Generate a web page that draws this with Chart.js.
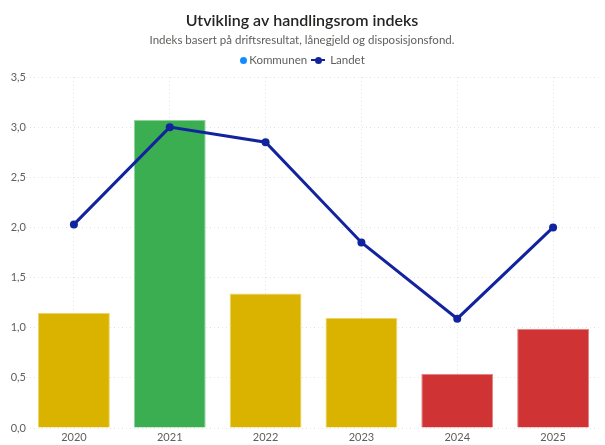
<!DOCTYPE html>
<html>
<head>
<meta charset="utf-8">
<script src="https://cdn.jsdelivr.net/npm/chart.js@4"></script>
<style>
  html, body { margin: 0; padding: 0; background: #fff; }
  #wrap { position: relative; width: 605px; height: 445px; }
  #legend {
    position: absolute; top: 52px; left: 0; width: 605px; height: 16px;
    display: flex; justify-content: center; align-items: center;
    font-family: Lato, sans-serif; font-size: 11.5px; color: #605E5C; line-height: 16px;
  }
  #legend .item { display: flex; align-items: center; margin: 0 2px; }
  #legend .dot { width: 7px; height: 7px; border-radius: 50%; background: #118DFF; margin-right: 2px; }
  #legend .ln { position: relative; width: 14px; height: 2px; background: #12239E; margin-right: 5px; }
  #legend .ln::after { content: ""; position: absolute; left: 3.5px; top: -2.5px; width: 7px; height: 7px; border-radius: 50%; background: #12239E; }
</style>
</head>
<body>
<div id="wrap">
  <canvas id="chartCanvas" width="605" height="445"></canvas>
  <div id="legend"></div>
</div>
<script>
const years = ["2020", "2021", "2022", "2023", "2024", "2025"];
const kommunen = [1.15, 3.07, 1.34, 1.10, 0.54, 0.99];
const landet = [2.03, 3.0, 2.85, 1.85, 1.09, 2.0];
const yTicks = [0, 0.5, 1, 1.5, 2, 2.5, 3, 3.5];

const fontFamily = "Lato, 'Noto Sans', sans-serif";

// farge etter indeksnivå
function barColor(v) {
  if (v < 1) return "#D03333";
  if (v < 2) return "#D9B300";
  return "#3AAE50";
}
function barBorder(v) {
  if (v < 1) return "#E48585";
  if (v < 2) return "#EDD56F";
  return "#8FD39B";
}

function lagLegend() {
  document.getElementById("legend").innerHTML =
    '<span class="item"><span class="dot"></span>Kommunen</span>' +
    '<span class="item"><span class="ln"></span>Landet</span>';
}

function inicializarGrafica() {
  const ctx = document.getElementById("chartCanvas").getContext("2d");
  new Chart(ctx, {
    data: {
      labels: years,
      datasets: [
        {
          type: "line",
          label: "Landet",
          data: landet,
          borderColor: "#12239E",
          backgroundColor: "#12239E",
          borderWidth: 3,
          pointRadius: 4,
          pointBorderWidth: 0,
          pointHoverRadius: 4,
          tension: 0,
          order: 0
        },
        {
          type: "bar",
          label: "Kommunen",
          data: kommunen,
          backgroundColor: kommunen.map(barColor),
          borderColor: kommunen.map(barBorder),
          borderWidth: 1,
          categoryPercentage: 0.75,
          barPercentage: 1,
          order: 1
        }
      ]
    },
    options: {
      responsive: false,
      animation: false,
      layout: { padding: { left: 3, right: 4, bottom: 0, top: 0 } },
      plugins: {
        title: {
          display: true,
          text: "Utvikling av handlingsrom indeks",
          color: "#252423",
          font: { family: fontFamily, size: 16, weight: "600" },
          padding: { top: 11, bottom: 3 }
        },
        subtitle: {
          display: true,
          text: "Indeks basert på driftsresultat, lånegjeld og disposisjonsfond.",
          color: "#605E5C",
          font: { family: fontFamily, size: 11.5 },
          padding: { bottom: 30 }
        },
        legend: { display: false },
        tooltip: { enabled: false }
      },
      scales: {
        x: {
          grid: {
            offset: false,
            color: "#E3E3E3",
            drawTicks: false
          },
          border: { display: false, dash: [1, 3] },
          ticks: {
            color: "#605E5C",
            font: { family: fontFamily, size: 11 },
            padding: 3
          },
          afterFit: (axis) => { axis.height = 17; }
        },
        y: {
          min: 0,
          max: 3.5,
          afterBuildTicks: (axis) => { axis.ticks = yTicks.map(v => ({ value: v })); },
          afterFit: (axis) => { axis.width = 23; },
          grid: { color: "#E3E3E3", drawTicks: false },
          border: { display: false, dash: [1, 3] },
          ticks: {
            color: "#605E5C",
            font: { family: fontFamily, size: 11 },
            padding: 0,
            callback: (v) => Number(v).toFixed(1).replace(".", ",")
          }
        }
      }
    }
  });
}

window.addEventListener("DOMContentLoaded", () => {
  lagLegend();
  inicializarGrafica();
});
</script>
</body>
</html>
